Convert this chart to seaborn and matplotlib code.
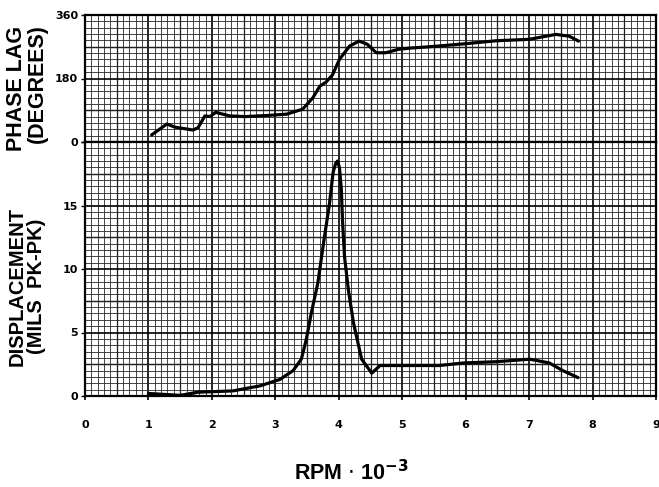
import numpy as np
import pandas as pd
import seaborn as sns
import matplotlib.pyplot as plt
from matplotlib.ticker import MultipleLocator

# values
rpm_phase = [1.05, 1.29, 1.42, 1.70, 1.78, 1.89, 1.97, 2.06, 2.28, 2.52, 2.86, 3.18,
             3.43, 3.59, 3.70, 3.80, 3.90, 4.01, 4.17, 4.32, 4.45, 4.59, 4.74, 4.95,
             5.11, 5.43, 5.96, 6.48, 7.00, 7.42, 7.63, 7.78]
phase_deg = [20, 51, 42, 34, 40, 74, 72, 84, 74, 72, 75, 79,
             93, 125, 158, 170, 190, 234, 272, 286, 277, 253, 253, 263,
             266, 270, 278, 287, 291, 305, 300, 286]

rpm_disp = [1.00, 1.50, 1.78, 2.33, 2.76, 3.07, 3.28, 3.41, 3.49, 3.57, 3.67, 3.77,
            3.85, 3.91, 3.95, 3.98, 4.01, 4.04, 4.06, 4.09, 4.15, 4.23, 4.36, 4.52,
            4.65, 5.17, 5.59, 5.96, 6.48, 7.01, 7.32, 7.53, 7.77]
disp_mils = [0.2, 0.05, 0.3, 0.4, 0.8, 1.3, 2.0, 2.9, 4.5, 6.6, 8.9, 12.4,
             15.0, 17.6, 18.3, 18.5, 18.0, 16.3, 13.7, 11.0, 8.4, 5.8, 2.9, 1.8,
             2.4, 2.4, 2.4, 2.6, 2.7, 2.9, 2.6, 2.0, 1.45]

x_ticks = list(range(10))
phase_ticks = [0, 180, 360]
disp_ticks = [0, 5, 10, 15]

df_phase = pd.DataFrame({'rpm': rpm_phase, 'phase': phase_deg})
df_disp = pd.DataFrame({'rpm': rpm_disp, 'disp': disp_mils})

sns.set_theme(style='white')
plt.rcParams['font.family'] = ['Liberation Sans', 'DejaVu Sans']
plt.rcParams['text.color'] = 'black'
plt.rcParams['xtick.color'] = 'black'
plt.rcParams['ytick.color'] = 'black'

fig = plt.figure(figsize=(6.59, 4.87), dpi=100)
gs = fig.add_gridspec(2, 1, height_ratios=[1, 2], hspace=0,
                      left=85/659, right=656/659, top=1-15/487, bottom=1-396/487)
ax1 = fig.add_subplot(gs[0])
ax2 = fig.add_subplot(gs[1], sharex=ax1)


def paper_grid(ax, minor_y, half_y):
    ax.xaxis.set_minor_locator(MultipleLocator(0.1))
    ax.yaxis.set_minor_locator(MultipleLocator(minor_y))
    ax.grid(which='minor', color='0.15', lw=0.6)
    ax.grid(which='major', color='black', lw=1.2)
    lo, hi = ax.get_ylim()
    for xv in np.arange(0.5, 9, 1.0):
        ax.axvline(xv, color='black', lw=0.9, zorder=0.5)
    for yv in np.arange(half_y, hi, 2 * half_y):
        ax.axhline(yv, color='black', lw=1.0, zorder=0.5)
    ax.set_axisbelow(True)
    for s in ax.spines.values():
        s.set_color('black')
        s.set_linewidth(1.6)


ax1.set_xlim(0, 9)
ax1.set_ylim(0, 360)
ax2.set_ylim(0, 20)
ax1.set_yticks(phase_ticks)
ax2.set_yticks(disp_ticks + [20])
ax2.set_yticklabels([str(t) for t in disp_ticks] + [''])
ax2.set_xticks(x_ticks)
ax2.set_xticklabels([str(t) for t in x_ticks])

paper_grid(ax1, 18, 90)
paper_grid(ax2, 0.5, 2.5)

sns.lineplot(data=df_phase, x='rpm', y='phase', ax=ax1, color='black', lw=2.3,
             sort=False, estimator=None)
sns.lineplot(data=df_disp, x='rpm', y='disp', ax=ax2, color='black', lw=2.3,
             sort=False, estimator=None)

for ax in (ax1, ax2):
    ax.set_xlabel('')
    ax.set_ylabel('')
    ax.tick_params(axis='y', which='major', left=True, length=3, width=1, pad=2,
                   labelsize=8, labelcolor='black')
    ax.tick_params(which='minor', length=0)
ax1.tick_params(axis='x', which='major', bottom=False, labelbottom=False)
ax2.tick_params(axis='x', which='major', bottom=True, length=3, width=1.2,
                pad=14, labelsize=8, labelcolor='black')
for lab in ax1.get_yticklabels() + ax2.get_yticklabels() + ax2.get_xticklabels():
    lab.set_fontweight('bold')
    lab.set_family(['DejaVu Sans'])

lbl = dict(rotation=90, fontweight='bold', ha='center', va='center', color='black')
fig.text(17/659, 1-88/487, 'PHASE LAG', fontsize=15.5, **lbl)
fig.text(37/659, 1-84/487, '(DEGREES)', fontsize=15.5, **lbl)
fig.text(17/659, 1-286/487, 'DISPLACEMENT', fontsize=14.5, **lbl)
fig.text(37/659, 1-286/487, '(MILS  PK-PK)', fontsize=14.5, **lbl)
fig.text(351/659, 1-480/487, r'RPM $\cdot$ 10$^{\mathbf{-3}}$', fontsize=15.5,
         fontweight='bold', ha='center', va='baseline', color='black')

fig.savefig('out.png', dpi=100)
